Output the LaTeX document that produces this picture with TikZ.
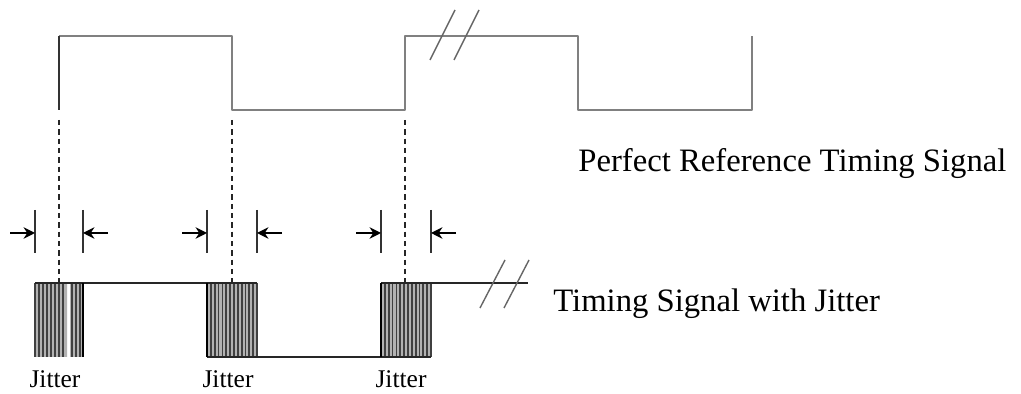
\documentclass[tikz,border=0pt]{standalone}
\usepackage{fontspec}
\setmainfont{Liberation Serif}
\usetikzlibrary{arrows.meta}
\tikzset{
  refsig/.style={draw=black!50, line width=1.1pt, line join=round},
  jitsig/.style={draw=black!85, line width=0.8pt},
  cutmark/.style={draw=black!60, line width=0.8pt},
  edgeline/.style={draw=black!85, line width=0.8pt, dash pattern=on 3pt off 2.3pt},
  jitmark/.style={draw=black!80, line width=0.9pt},
  jitarrow/.style={-{Stealth[length=6.5pt,width=6.5pt]}, line width=0.8pt},
  stripe/.style={draw=black!75, line width=1pt},
  thickedge/.style={draw=black, line width=1.5pt},
  signame/.style={anchor=base west, inner sep=0pt, font=\fontsize{18.6}{21}\selectfont},
  jitname/.style={anchor=base, inner sep=0pt, font=\fontsize{14.5}{16}\selectfont},
}
\begin{document}
\begin{tikzpicture}[x=0.02cm,y=-0.02cm]
	\useasboundingbox (0,0) rectangle (1021,394);
%	\draw[gray!40] (0,0) grid[step=50] (1021,394);

	% perfect reference signal
	\draw[refsig] (59,36) -- (232,36) -- (232,110) -- (405,110) -- (405,36)
		-- (578,36) -- (578,110) -- (752,110) -- (752,36);
	\draw[draw=black!80, line width=1.1pt] (59,36) -- (59,110);
	\draw[cutmark] (430,60) -- (455,10) (454,60) -- (479,10);
	\node[signame] (refname) at (578,172) {Perfect Reference Timing Signal};

	% edges carried down
	\foreach \x in {59,232,405}
		\draw[edgeline] (\x,120) -- (\x,283);

	% jitter window marks
	\foreach \a/\b in {35/83,207/257,381/431} {
		\draw[jitmark] (\a,210) -- (\a,253) (\b,210) -- (\b,253);
		\draw[jitarrow] (\a-25,233) -- (\a,233);
		\draw[jitarrow] (\b+25,233) -- (\b,233);
	}

	% jitter bands
	\fill[black!30] (35,283) rectangle (67,357) (70,283) rectangle (83,357);
	\foreach \x in {35,39,...,63,72,76,80}
		\draw[stripe] (\x,283) -- (\x,357);
	\foreach \a in {207,381} {
		\fill[black!30] (\a,283) rectangle (\a+50,357);
		\foreach \k in {0,...,13}
			\draw[stripe] (\a+\k*3.85,283) -- (\a+\k*3.85,357);
	}

	% timing signal with jitter
	\draw[jitsig] (35,283) -- (257,283);
	\draw[jitsig] (207,357) -- (431,357);
	\draw[jitsig] (381,283) -- (528,283);
	\draw[thickedge] (83,283) -- (83,357) (207,283) -- (207,357)
		(381,283) -- (381,357);
	\draw[cutmark] (480,308) -- (505,260) (504,308) -- (529,260);
	\node[signame] (jitsigname) at (553,312) {Timing Signal with Jitter};

	\node[jitname] (jit1) at (55,388) {Jitter};
	\node[jitname] (jit2) at (228,388) {Jitter};
	\node[jitname] (jit3) at (401,388) {Jitter};
\end{tikzpicture}
\end{document}
